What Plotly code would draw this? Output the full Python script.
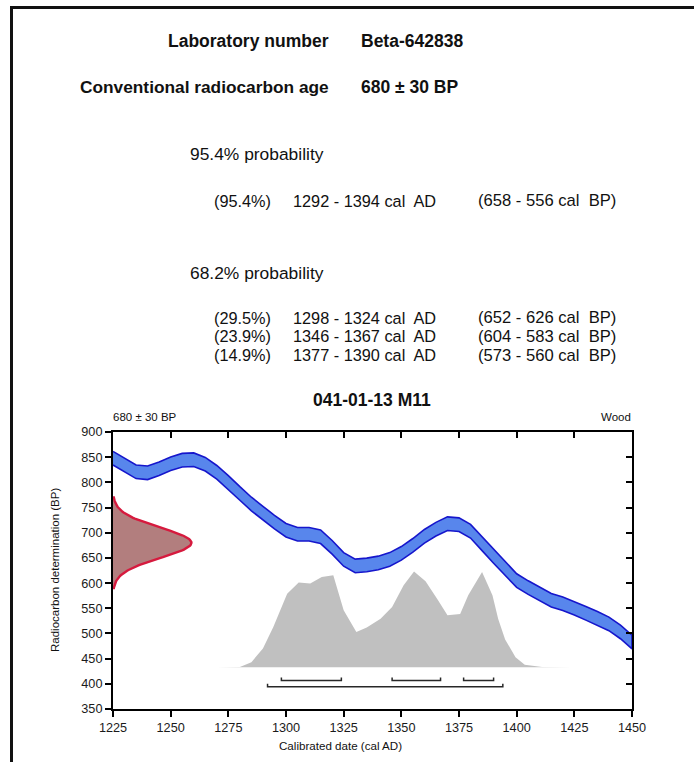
import numpy as np
import plotly.graph_objects as go

# ---- sample information ----
LAB_NUMBER = "Beta-642838"
RC_AGE = 680
RC_ERROR = 30
SAMPLE_NAME = "041-01-13 M11"
MATERIAL = "Wood"

# calibrated ranges: (probability %, from AD, to AD)
RANGES_95 = [(95.4, 1292, 1394)]
RANGES_68 = [(29.5, 1298, 1324), (23.9, 1346, 1367), (14.9, 1377, 1390)]

# ---- calibration curve (cal AD, radiocarbon BP, 1-sigma) ----
CURVE_YEAR = [1225, 1230, 1235, 1240, 1245, 1250, 1255, 1260, 1265, 1270,
              1275, 1280, 1285, 1290, 1295, 1300, 1305, 1310, 1315, 1320,
              1325, 1330, 1335, 1340, 1345, 1350, 1355, 1360, 1365, 1370,
              1375, 1380, 1385, 1390, 1395, 1400, 1405, 1410, 1415, 1420,
              1425, 1430, 1435, 1440, 1445, 1450]
CURVE_BP = [848, 834, 821, 819, 827, 837, 844, 845, 836, 820,
            800, 778, 757, 739, 721, 705, 697, 697, 692, 671,
            647, 634, 636, 640, 647, 659, 675, 693, 707, 718,
            716, 703, 678, 653, 628, 605, 591, 578, 566, 559,
            550, 540, 530, 519, 503, 483]
CURVE_ERR = [13.5] * len(CURVE_YEAR)

# ---- calibrated probability distribution (relative) ----
PROB_YEAR = [1270, 1280, 1285, 1290, 1294.5, 1300.5, 1305.5, 1310.5, 1315.5,
             1320.5, 1325, 1330.5, 1335, 1341, 1346, 1351, 1355.5, 1360.5,
             1365.5, 1370, 1375.5, 1379, 1385, 1389.5, 1392, 1395, 1399.5,
             1403.5, 1411, 1424]
PROB_REL = [0.0, 0.003, 0.053, 0.195, 0.421, 0.768, 0.884, 0.874, 0.942,
            0.961, 0.595, 0.368, 0.416, 0.505, 0.629, 0.856, 1.0, 0.898,
            0.716, 0.542, 0.555, 0.751, 0.995, 0.751, 0.503, 0.29, 0.105,
            0.026, 0.002, 0.0]

X_TICKS = [1225, 1250, 1275, 1300, 1325, 1350, 1375, 1400, 1425, 1450]
Y_TICKS = [350, 400, 450, 500, 550, 600, 650, 700, 750, 800, 850, 900]
X_RANGE = [1225, 1450]
Y_RANGE = [350, 900]

# ---- drawing styles ----
FONT = "Liberation Sans, Arial, sans-serif"
W, H = 694, 762
ML, MR, MT, MB = 113, 62, 432, 53
PW, PH = W - ML - MR, H - MT - MB

BAND_FILL = "rgb(88,134,236)"
BAND_LINE = "rgb(22,22,204)"
GAUSS_FILL = "rgb(178,126,126)"
GAUSS_LINE = "rgb(214,26,62)"
PROB_FILL = "rgb(192,192,192)"
BRACKET = "rgb(40,40,40)"

PROB_BASE = 433      # BP level of the distribution baseline
PROB_SCALE = 190     # BP height of the distribution peak
GAUSS_WIDTH = 34     # years of axis space used by the age distribution
ROW68_Y, ROW95_Y, BRACKET_TICK = 406.5, 394, 6


def xp(px):
    return (px - ML) / PW


def yp(py):
    return (H - MB - py) / PH


fig = go.Figure()

# calibrated probability distribution
fig.add_trace(go.Scatter(
    x=PROB_YEAR, y=[PROB_BASE + PROB_SCALE * p for p in PROB_REL],
    mode="lines", fill="toself", fillcolor=PROB_FILL,
    line=dict(width=0, color=PROB_FILL), hoverinfo="skip", showlegend=False))

# calibration curve band
upper = [m + e for m, e in zip(CURVE_BP, CURVE_ERR)]
lower = [m - e for m, e in zip(CURVE_BP, CURVE_ERR)]
fig.add_trace(go.Scatter(
    x=CURVE_YEAR + CURVE_YEAR[::-1], y=upper + lower[::-1],
    mode="lines", fill="toself", fillcolor=BAND_FILL,
    line=dict(color=BAND_LINE, width=1.6), hoverinfo="skip", showlegend=False))

# radiocarbon age distribution on the y axis
g_bp = np.linspace(RC_AGE - 3 * RC_ERROR, RC_AGE + 3 * RC_ERROR, 121)
g_x = X_RANGE[0] + GAUSS_WIDTH * np.exp(-0.5 * ((g_bp - RC_AGE) / RC_ERROR) ** 2)
fig.add_trace(go.Scatter(
    x=[X_RANGE[0]] + list(g_x) + [X_RANGE[0]],
    y=[g_bp[0]] + list(g_bp) + [g_bp[-1]],
    mode="lines", fill="toself", fillcolor=GAUSS_FILL,
    line=dict(color=GAUSS_LINE, width=2.4), hoverinfo="skip", showlegend=False))

# range brackets under the distribution
def brackets(ranges, level):
    bx, by = [], []
    for _, a, b in ranges:
        bx += [a, a, b, b, None]
        by += [level + BRACKET_TICK, level, level, level + BRACKET_TICK, None]
    return bx, by


for rng, lvl in ((RANGES_68, ROW68_Y), (RANGES_95, ROW95_Y)):
    bx, by = brackets(rng, lvl)
    fig.add_trace(go.Scatter(x=bx, y=by, mode="lines",
                             line=dict(color=BRACKET, width=1.5),
                             hoverinfo="skip", showlegend=False))

# invisible trace so the mirrored top/right axes are drawn
fig.add_trace(go.Scatter(x=X_RANGE, y=Y_RANGE, xaxis="x2", yaxis="y2",
                         mode="markers", marker=dict(opacity=0),
                         hoverinfo="skip", showlegend=False))

axis_common = dict(showgrid=False, zeroline=False, showline=True,
                   linecolor="black", linewidth=2, tickcolor="black",
                   tickwidth=1.5, ticklen=6)

fig.update_layout(
    width=W, height=H,
    margin=dict(l=ML, r=MR, t=MT, b=MB, pad=0),
    paper_bgcolor="white", plot_bgcolor="white",
    font=dict(family=FONT, color="#1a1a1a"),
    xaxis=dict(range=X_RANGE, tickvals=X_TICKS, ticks="outside",
               tickfont=dict(size=12.7, family=FONT, color="#1a1a1a"),
               **axis_common),
    yaxis=dict(range=Y_RANGE, tickvals=Y_TICKS, ticks="outside",
               tickfont=dict(size=12.7, family=FONT, color="#1a1a1a"),
               **axis_common),
    xaxis2=dict(range=X_RANGE, overlaying="x", side="top", anchor="y2",
                tickvals=X_TICKS[1:-1], ticks="inside",
                showticklabels=False, **axis_common),
    yaxis2=dict(range=Y_RANGE, overlaying="y", side="right", anchor="x2",
                tickvals=Y_TICKS[1:-1], ticks="inside",
                showticklabels=False, **axis_common),
)

ann = []


def text(s, px, py, size, anchor="left", angle=0):
    ann.append(dict(text=s, x=xp(px), y=yp(py), xref="paper", yref="paper",
                    xanchor=anchor, yanchor="middle", showarrow=False,
                    textangle=angle,
                    font=dict(family=FONT, size=size, color="#111")))


# header
text("<b>Laboratory number</b>", 331, 40.5, 17.5, "right")
text(f"<b>{LAB_NUMBER}</b>", 359, 40.5, 17.5)
text("<b>Conventional radiocarbon age</b>", 331, 87, 17.3, "right")
text(f"<b>{RC_AGE} ± {RC_ERROR} BP</b>", 359, 87, 17.5)

# calibrated range listing
def range_rows(ranges, y0):
    for i, (p, a, b) in enumerate(ranges):
        y = y0 + i * 18.7
        text(f"({p:.1f}%)", 212, y, 16.3)
        text(f"{a} - {b} cal\u00a0 AD", 291, y, 16.3)
        text(f"({1950 - a} - {1950 - b} cal\u00a0 BP)", 476, y, 16.6)


text("95.4% probability", 188, 154, 17.4)
range_rows(RANGES_95, 201)
text("68.2% probability", 188, 273, 17.4)
range_rows(RANGES_68, 317.7)

# chart labels
text(f"<b>{SAMPLE_NAME}</b>", 371.5, 400, 17.5, "center")
text(f"{RC_AGE} ± {RC_ERROR} BP", 111, 416.7, 11.5)
text(MATERIAL, 633, 416.7, 11.5, "right")
text("Radiocarbon determination (BP)", 55, 570, 11.5, "center", -90)
text("Calibrated date (cal AD)", 340, 745, 11.6, "center")

fig.update_layout(annotations=ann)

# page frame
fig.add_shape(type="line", xref="paper", yref="paper",
              x0=xp(11.5), x1=xp(11.5), y0=yp(7.5), y1=yp(H + 10),
              line=dict(color="#111", width=3))
fig.add_shape(type="line", xref="paper", yref="paper",
              x0=xp(10), x1=xp(W + 10), y0=yp(7.5), y1=yp(7.5),
              line=dict(color="#111", width=3))

fig.write_html("out.html")
